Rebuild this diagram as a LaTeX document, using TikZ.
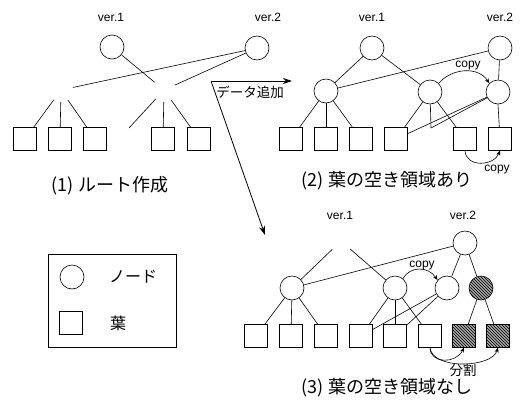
\documentclass[tikz,border=0pt]{standalone}
\usepackage{fontspec}
\setmainfont{Liberation Sans}
\newfontfamily\jp{Noto Sans CJK JP}
\usetikzlibrary{arrows.meta,patterns}
\begin{document}
\begin{tikzpicture}[x=1pt,y=-1pt,
  circ/.style={circle,draw,minimum size=24pt,inner sep=0pt,line width=0.6pt},
  ghost/.style={circle,minimum size=24pt,inner sep=0pt},
  leaf/.style={rectangle,draw,minimum size=22.5pt,inner sep=0pt,line width=0.6pt},
  hatch/.style={preaction={fill=black!35},pattern=north west lines},
  conn/.style={line width=0.6pt},
  ver/.style={font=\fontsize{12}{14}\selectfont},
  captxt/.style={font=\jp\fontsize{18}{20}\selectfont},
  lbl/.style={font=\fontsize{12}{14}\selectfont},
  smalljp/.style={font=\jp\fontsize{13.5}{15}\selectfont},
  carrow/.style={line width=0.6pt,-{Stealth[length=5pt,width=4pt]}},
  bigarrow/.style={line width=0.8pt,-{Stealth[length=9pt,width=6pt]}}]
\useasboundingbox (0,0) rectangle (522,402);

% ---------- panel 1 ----------
\node[ver] (v1a) at (111,17) {ver.1};
\node[ver] (v1b) at (268,17) {ver.2};
\node[circ] (r1a) at (112,47) {};
\node[circ] (r1b) at (257,48) {};
\node[ghost] (i1L) at (61,90) {};
\node[ghost] (i1R) at (164,90) {};
\coordinate (e1) at (129,128);
\foreach \n/\x in {1/25,2/60,3/95,5/163,6/199}
  \node[leaf] (l1\n) at (\x,139) {};
\draw[conn] (r1a) -- (i1R);
\draw[conn] (r1b) -- (i1L);
\draw[conn] (r1b) -- (i1R);
\draw[conn] (i1L) -- (l11);
\draw[conn] (i1L) -- (l12);
\draw[conn] (i1L) -- (l13);
\draw[conn] (i1R) -- (e1);
\draw[conn] (i1R) -- (l15);
\draw[conn] (i1R) -- (l16);
\node[captxt] (c1) at (110,186) {(1) ルート作成};

% ---------- arrows ----------
\coordinate (corner) at (211,81);
\coordinate (a2) at (292,81);
\coordinate (a3) at (265,235);
\draw[bigarrow] (corner) -- (a2);
\draw[bigarrow] (corner) -- (a3);
\node[smalljp] (add) at (250,92) {データ追加};

% ---------- panel 2 ----------
\node[ver] (v2a) at (372,17) {ver.1};
\node[ver] (v2b) at (500,17) {ver.2};
\node[circ] (r2a) at (372,48) {};
\node[circ] (r2b) at (500,48) {};
\node[circ] (n2L) at (326,91) {};
\node[circ] (n2M) at (430,92) {};
\node[circ] (n2N) at (498,92) {};
\coordinate (e2) at (431,128);
\foreach \n/\x in {1/291,2/326,3/361,4/396,5/465,6/500}
  \node[leaf] (l2\n) at (\x,139) {};
\draw[conn] (r2a) -- (n2L);
\draw[conn] (r2a) -- (n2M);
\draw[conn] (r2b) -- (n2L);
\draw[conn] (r2b) -- (n2N);
\draw[conn] (n2L) -- (l21);
\draw[conn] (n2L) -- (l22);
\draw[conn] (n2L) -- (l23);
\draw[conn] (n2M) -- (l24);
\draw[conn] (n2M) -- (e2);
\draw[conn] (n2M) -- (l25);
\draw[conn] (n2N) -- (l24);
\draw[conn] (n2N) -- (e2);
\draw[conn] (n2N.south) -- (l26);
\draw[carrow] (n2M.45) .. controls (452,68) and (478,66) .. (n2N.135);
\node[lbl] (cp2a) at (468,66) {copy};
\draw[carrow] (l25.south) .. controls (466,168) and (494,166) .. (l26.south);
\node[lbl] (cp2b) at (497,170) {copy};
\node[captxt] (c2) at (387,181) {(2) 葉の空き領域あり};

% ---------- panel 3 ----------
\node[ver] (v3a) at (340,215) {ver.1};
\node[ver] (v3b) at (463,215) {ver.2};
\node[ghost] (r3a) at (341,241) {};
\node[circ] (r3b) at (465,243) {};
\node[circ] (n3L) at (292,288) {};
\node[circ] (n3M) at (395,288) {};
\node[circ] (n3N) at (447,288) {};
\node[circ,hatch] (n3H) at (481,288) {};
\foreach \n/\x in {1/256,2/291,3/326,4/361,5/395,6/430}
  \node[leaf] (l3\n) at (\x,336) {};
\node[leaf,hatch] (l37) at (464,336) {};
\node[leaf,hatch] (l38) at (498,336) {};
\draw[conn] (r3a) -- (n3L);
\draw[conn] (r3a) -- (n3M);
\draw[conn] (r3b) -- (n3L);
\draw[conn] (r3b) -- (n3N);
\draw[conn] (r3b) -- (n3H);
\draw[conn] (n3L) -- (l31);
\draw[conn] (n3L) -- (l32);
\draw[conn] (n3L) -- (l33);
\draw[conn] (n3M) -- (l34);
\draw[conn] (n3M) -- (l35);
\draw[conn] (n3M) -- (l36);
\draw[conn] (n3N) -- (l34);
\draw[conn] (n3N) -- (l35);
\draw[conn] (n3H) -- (l37);
\draw[conn] (n3H) -- (l38);
\draw[carrow] (n3M.50) .. controls (410,266) and (428,266) .. (n3N.140);
\node[lbl] (cp3) at (422,266) {copy};
\draw[carrow] (l36.south) .. controls (430,364) and (456,364) .. (l37.south);
\draw[carrow] (l36.south) .. controls (432,370) and (492,368) .. (l38.south);
\node[smalljp] (split) at (463,370) {分割};
\node[captxt] (c3) at (387,388) {(3) 葉の空き領域なし};

% ---------- legend ----------
\node[rectangle,draw,line width=0.6pt,minimum width=128pt,minimum height=93pt,inner sep=0pt] (leg) at (112,300.5) {};
\node[circ] (lgc) at (72,277) {};
\node[font=\jp\fontsize{16}{18}\selectfont] (lgct) at (133,277) {ノード};
\node[leaf] (lgl) at (71,323) {};
\node[font=\jp\fontsize{16}{18}\selectfont] (lglt) at (118,323) {葉};
\end{tikzpicture}
\end{document}
